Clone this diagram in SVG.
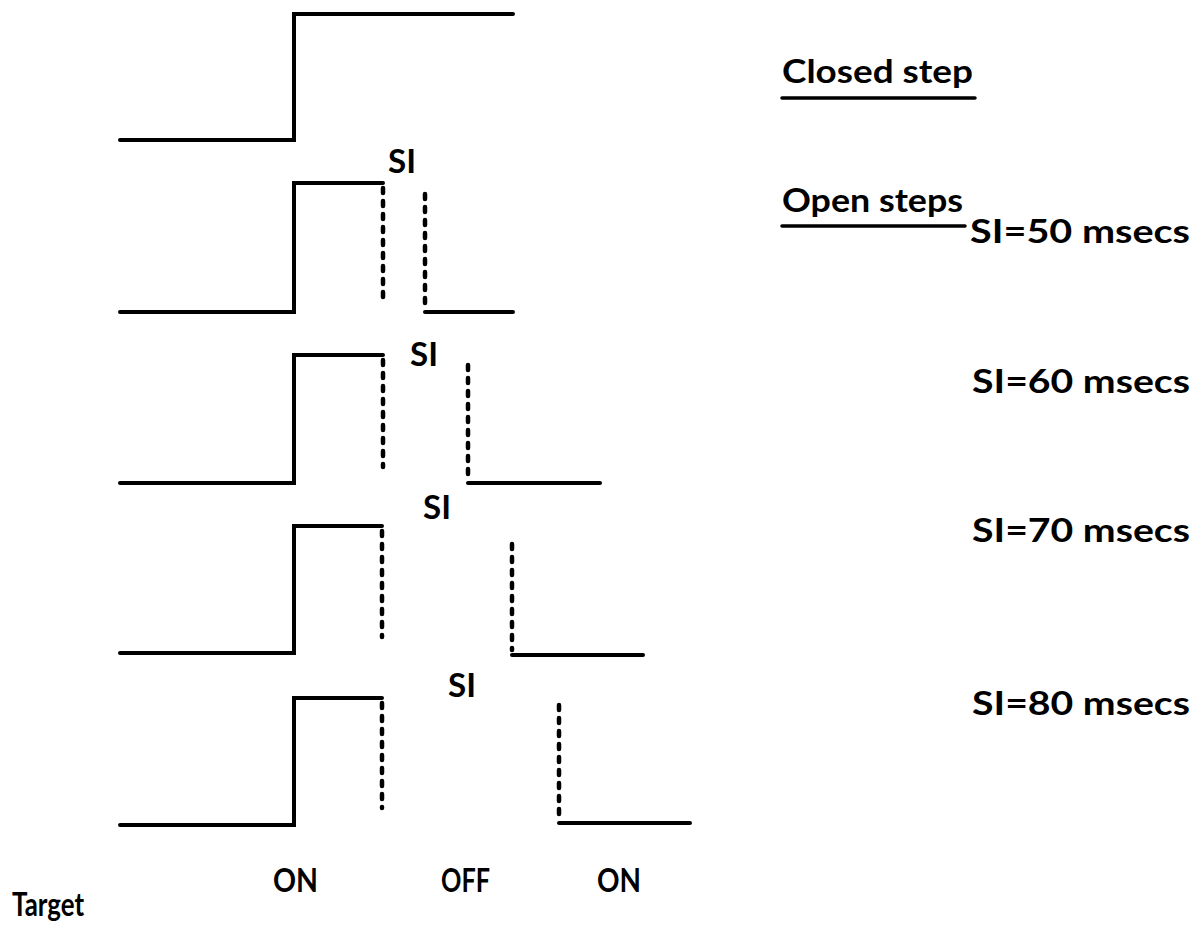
<svg xmlns="http://www.w3.org/2000/svg" width="1199" height="935" viewBox="0 0 1199 935">
<style>
.w{fill:none;stroke:#000;stroke-width:4;stroke-linejoin:miter;stroke-linecap:round}
.d{fill:none;stroke:#000;stroke-width:4.5;stroke-dasharray:5 8;stroke-linecap:round}
.u{fill:none;stroke:#000;stroke-width:3.5;stroke-linecap:round}
text{font-family:Lato,"Liberation Sans",sans-serif;font-weight:bold;fill:#000}
.t{font-size:32px}
.s{font-size:33px}
</style>
<rect width="1199" height="935" fill="#fff"/>
<g id="connectors">
</g>
<g id="closed-step">
<path class="w" d="M120,140 H294 V14 H513"/>
</g>
<g id="open-50">
<path class="w" d="M120,312 H294 V183 H383"/>
<path class="d" d="M383,188 V304"/>
<path class="d" d="M425,194 V308"/>
<path class="w" d="M425,312 H513"/>
<text class="s" x="388" y="173" textLength="28" lengthAdjust="spacingAndGlyphs">SI</text>
</g>
<g id="open-60">
<path class="w" d="M120,483 H294 V355 H383"/>
<path class="d" d="M383,360 V467"/>
<path class="d" d="M468,365 V479"/>
<path class="w" d="M468,483 H600"/>
<text class="s" x="410" y="366" textLength="28" lengthAdjust="spacingAndGlyphs">SI</text>
</g>
<g id="open-70">
<path class="w" d="M120,653 H294 V526 H382"/>
<path class="d" d="M382,531 V637"/>
<path class="d" d="M512,544 V650"/>
<path class="w" d="M512,655 H643"/>
<text class="s" x="423" y="519" textLength="28" lengthAdjust="spacingAndGlyphs">SI</text>
</g>
<g id="open-80">
<path class="w" d="M120,825 H294 V698 H382"/>
<path class="d" d="M382,703 V808"/>
<path class="d" d="M559,705 V818"/>
<path class="w" d="M559,823 H690"/>
<text class="s" x="448" y="697" textLength="28" lengthAdjust="spacingAndGlyphs">SI</text>
</g>
<g id="legend-closed">
<text class="t" x="782" y="83" textLength="191" lengthAdjust="spacingAndGlyphs">Closed  step</text>
<line class="u" x1="782" y1="98" x2="975" y2="98"/>
</g>
<g id="legend-open">
<text class="t" x="782" y="212" textLength="181" lengthAdjust="spacingAndGlyphs">Open  steps</text>
<line class="u" x1="782" y1="226" x2="965" y2="226"/>
</g>
<g id="si-labels">
<text class="t" x="970" y="243" textLength="220" lengthAdjust="spacingAndGlyphs">SI=50  msecs</text>
<text class="t" x="972" y="393" textLength="218" lengthAdjust="spacingAndGlyphs">SI=60  msecs</text>
<text class="t" x="972" y="542" textLength="218" lengthAdjust="spacingAndGlyphs">SI=70  msecs</text>
<text class="t" x="972" y="715" textLength="218" lengthAdjust="spacingAndGlyphs">SI=80  msecs</text>
</g>
<g id="axis-labels">
<text class="t" x="273" y="892" textLength="45" lengthAdjust="spacingAndGlyphs">ON</text>
<text class="t" x="441" y="892" textLength="49" lengthAdjust="spacingAndGlyphs">OFF</text>
<text class="t" x="597" y="892" textLength="44" lengthAdjust="spacingAndGlyphs">ON</text>
<text class="t" x="12" y="916" textLength="72" lengthAdjust="spacingAndGlyphs">Target</text>
</g>
</svg>
